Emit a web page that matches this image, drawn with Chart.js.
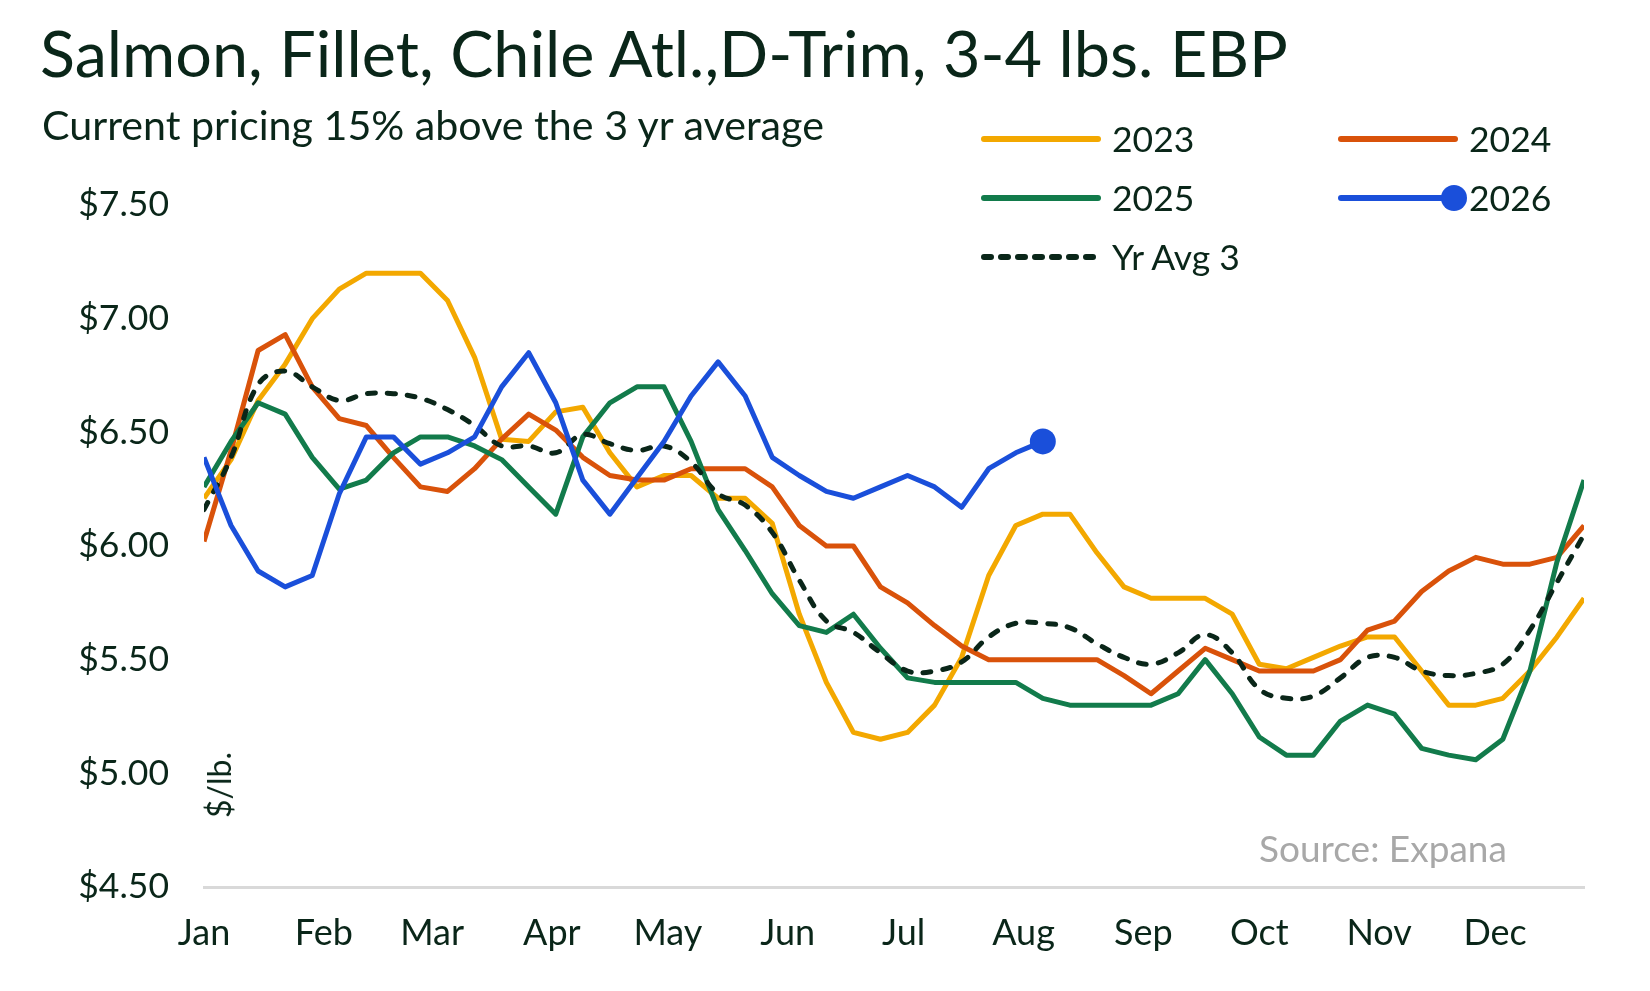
<!DOCTYPE html>
<html>
<head>
<meta charset="utf-8">
<title>Salmon, Fillet, Chile Atl.,D-Trim, 3-4 lbs. EBP</title>
<script src="https://cdn.jsdelivr.net/npm/chart.js@4.4.1/dist/chart.umd.min.js"></script>
<style>
  html, body { margin: 0; padding: 0; background: #fff; }
  body { width: 1650px; height: 991px; position: relative; overflow: hidden; font-family: Lato, "Open Sans", sans-serif; color: #0a2619; }
  #wrap { position: absolute; left: 0; top: 0; width: 1650px; height: 991px; }
  .title { position: absolute; left: 40px; top: 20px; font-size: 64.7px; line-height: 1; white-space: nowrap; }
  .subtitle { position: absolute; left: 42px; top: 104px; font-size: 41.2px; line-height: 1; white-space: nowrap; }
  #legend { position: absolute; left: 981px; top: 109px; display: grid; grid-template-columns: 357px 230px; grid-auto-rows: 59px; }
  .item { display: flex; align-items: center; font-size: 35.5px; white-space: nowrap; }
  .item svg { overflow: visible; margin-right: 11px; flex: none; }
  .unit { position: absolute; left: 219px; top: 785px; font-size: 32px; line-height: 1; white-space: nowrap; transform: translate(-50%, -50%) rotate(-90deg); }
  .source { position: absolute; left: 1259px; top: 829px; font-size: 37px; line-height: 1; color: #a8a8a8; white-space: nowrap; }
</style>
</head>
<body>
<div id="wrap"><canvas id="priceChart" width="1650" height="991"></canvas></div>
<div class="title">Salmon, Fillet, Chile Atl.,D-Trim, 3-4 lbs. EBP</div>
<div class="subtitle">Current pricing 15% above the 3 yr average</div>
<div id="legend"></div>
<div class="unit">$/lb.</div>
<div class="source">Source: Expana</div>
<script>
// month labels and the day of year each one starts on
const months = ["Jan", "Feb", "Mar", "Apr", "May", "Jun", "Jul", "Aug", "Sep", "Oct", "Nov", "Dec"];
const monthStartDays = [0, 31, 59, 90, 120, 151, 181, 212, 243, 273, 304, 334];
const yTicks = [4.5, 5.0, 5.5, 6.0, 6.5, 7.0, 7.5];

// weekly prices, $/lb.
const s2023 = [6.21, 6.38, 6.64, 6.80, 7.00, 7.13, 7.20, 7.20, 7.20, 7.08, 6.83, 6.47, 6.46,
               6.59, 6.61, 6.41, 6.26, 6.31, 6.31, 6.21, 6.21, 6.10, 5.70, 5.40, 5.18, 5.15,
               5.18, 5.30, 5.51, 5.87, 6.09, 6.14, 6.14, 5.97, 5.82, 5.77, 5.77, 5.77, 5.70,
               5.48, 5.46, 5.51, 5.56, 5.60, 5.60, 5.45, 5.30, 5.30, 5.33, 5.45, 5.60, 5.77];
const s2024 = [6.02, 6.42, 6.86, 6.93, 6.70, 6.56, 6.53, 6.39, 6.26, 6.24, 6.34, 6.47, 6.58,
               6.51, 6.39, 6.31, 6.29, 6.29, 6.34, 6.34, 6.34, 6.26, 6.09, 6.00, 6.00, 5.82,
               5.75, 5.65, 5.56, 5.50, 5.50, 5.50, 5.50, 5.50, 5.43, 5.35, 5.45, 5.55, 5.50,
               5.45, 5.45, 5.45, 5.50, 5.63, 5.67, 5.80, 5.89, 5.95, 5.92, 5.92, 5.95, 6.09];
const s2025 = [6.26, 6.46, 6.63, 6.58, 6.39, 6.25, 6.29, 6.41, 6.48, 6.48, 6.44, 6.38, 6.26,
               6.14, 6.48, 6.63, 6.70, 6.70, 6.46, 6.16, 5.98, 5.79, 5.65, 5.62, 5.70, 5.55,
               5.42, 5.40, 5.40, 5.40, 5.40, 5.33, 5.30, 5.30, 5.30, 5.30, 5.35, 5.50, 5.35,
               5.16, 5.08, 5.08, 5.23, 5.30, 5.26, 5.11, 5.08, 5.06, 5.15, 5.45, 5.93, 6.29];
const s2026 = [6.39, 6.09, 5.89, 5.82, 5.87, 6.23, 6.48, 6.48, 6.36, 6.41, 6.48, 6.70, 6.85,
               6.63, 6.29, 6.14, 6.30, 6.46, 6.66, 6.81, 6.66, 6.39, 6.31, 6.24, 6.21, 6.26,
               6.31, 6.26, 6.17, 6.34, 6.41, 6.46];
const avg3 = [6.16, 6.39, 6.71, 6.77, 6.70, 6.64, 6.67, 6.67, 6.65, 6.60, 6.53, 6.44, 6.44,
              6.41, 6.49, 6.45, 6.42, 6.44, 6.37, 6.23, 6.18, 6.06, 5.85, 5.67, 5.62, 5.53,
              5.45, 5.45, 5.49, 5.60, 5.66, 5.66, 5.64, 5.57, 5.51, 5.48, 5.53, 5.61, 5.53,
              5.37, 5.33, 5.34, 5.42, 5.51, 5.51, 5.45, 5.43, 5.44, 5.48, 5.63, 5.84, 6.05];

const ink = "#0a2619";
const font = "Lato, 'Open Sans', sans-serif";

// one point per week, x = day of year
function weekly(values) {
    return values.map((v, i) => ({ x: i * 7, y: v }));
}

const lastBlue = s2026.length - 1;

const ctx = document.getElementById("priceChart").getContext("2d");
const chart = new Chart(ctx, {
    type: "line",
    data: {
        datasets: [
            { label: "2023", data: weekly(s2023), borderColor: "#f3a800", order: 4 },
            { label: "2024", data: weekly(s2024), borderColor: "#d9520a", order: 3 },
            { label: "2025", data: weekly(s2025), borderColor: "#127b4b", order: 2 },
            {
                label: "2026", data: weekly(s2026), borderColor: "#1a4fda", order: 0,
                pointRadius: c => c.dataIndex === lastBlue ? 13 : 0,
                pointBackgroundColor: "#1a4fda", pointBorderWidth: 0
            },
            {
                label: "Yr Avg 3", data: weekly(avg3), borderColor: ink, order: 1,
                borderDash: [8, 12], borderCapStyle: "round", tension: 0.4
            }
        ]
    },
    options: {
        responsive: false,
        animation: false,
        events: [],
        layout: { padding: { top: 205, right: 66, bottom: 0, left: 0 } },
        elements: {
            line: { borderWidth: 5, tension: 0, fill: false, borderJoinStyle: "round" },
            point: { radius: 0, hoverRadius: 0 }
        },
        plugins: {
            legend: { display: false },
            tooltip: { enabled: false },
            title: { display: false }
        },
        scales: {
            x: {
                type: "linear",
                min: 0,
                max: 357,
                afterFit: s => { s.height = 104; },
                afterBuildTicks: s => { s.ticks = monthStartDays.map(d => ({ value: d })); },
                grid: { display: false, drawTicks: false },
                border: { display: true, color: "#d9d9d9", width: 3 },
                ticks: {
                    autoSkip: false,
                    maxRotation: 0,
                    padding: 25,
                    color: ink,
                    font: { family: font, size: 36 },
                    callback: (v, i) => months[i]
                }
            },
            y: {
                min: 4.5,
                max: 7.5,
                afterFit: s => { s.width = 204; },
                afterBuildTicks: s => { s.ticks = yTicks.map(v => ({ value: v })); },
                grid: { display: false, drawTicks: false },
                border: { display: false },
                ticks: {
                    padding: 35,
                    color: ink,
                    font: { family: font, size: 35.5 },
                    callback: v => "$" + Number(v).toFixed(2)
                }
            }
        }
    }
});

// two-column legend built from the chart's datasets
const legendOrder = ["2023", "2024", "2025", "2026", "Yr Avg 3"];
const legendBox = document.getElementById("legend");
legendOrder.forEach(name => {
    const ds = chart.data.datasets.find(d => d.label === name);
    const item = document.createElement("div");
    item.className = "item";
    let svg = '<svg width="120" height="30">';
    if (ds.borderDash) {
        svg += '<line x1="3" y1="15" x2="117" y2="15" stroke="' + ds.borderColor +
               '" stroke-width="6" stroke-linecap="round" stroke-dasharray="7 10"/>';
    } else {
        svg += '<line x1="3" y1="15" x2="117" y2="15" stroke="' + ds.borderColor +
               '" stroke-width="6" stroke-linecap="round"/>';
    }
    if (ds.pointBackgroundColor) {
        svg += '<circle cx="116" cy="15" r="13" fill="' + ds.pointBackgroundColor + '"/>';
    }
    svg += "</svg>";
    item.innerHTML = svg + "<span>" + ds.label + "</span>";
    legendBox.appendChild(item);
});
</script>
</body>
</html>
